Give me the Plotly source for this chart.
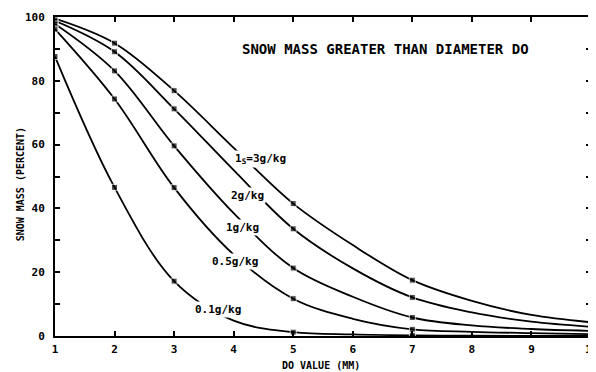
import plotly.graph_objects as go

# ---- data ----
do_values = [1, 2, 3, 4, 5, 6, 7, 8, 9, 10]
marked_do = [1, 2, 3, 5, 7]
mass_3g = [99.5, 91.8, 76.9, 59.0, 41.5, 28.5, 17.5, 11.0, 6.6, 4.3]
mass_2g = [98.8, 89.1, 71.2, 52.0, 33.6, 21.2, 12.1, 7.4, 4.5, 2.9]
mass_1g = [97.8, 83.1, 59.6, 38.5, 21.3, 12.3, 5.8, 3.3, 2.2, 1.6]
mass_05g = [96.2, 74.3, 46.5, 25.5, 11.7, 5.4, 2.1, 1.3, 0.9, 0.6]
mass_01g = [87.6, 46.6, 17.2, 4.8, 1.2, 0.5, 0.2, 0.1, 0.05, 0.0]

series = [mass_3g, mass_2g, mass_1g, mass_05g, mass_01g]

labels = ["1<sub>S</sub>=3g/kg", "2g/kg", "1g/kg", "0.5g/kg", "0.1g/kg"]
label_x = [4.45, 4.24, 4.14, 4.03, 3.74]
label_y = [55.5, 43.9, 33.9, 23.2, 8.2]

x_ticks = list(range(1, 11))
y_ticks = [0, 20, 40, 60, 80, 100]

title_text = "SNOW MASS GREATER THAN DIAMETER DO"
x_title = "DO VALUE (MM)"
y_title = "SNOW MASS (PERCENT)"

FONT = "DejaVu Sans Mono"
TICKFONT = dict(family=FONT, size=11, color="black", weight="bold")

fig = go.Figure()
for ys in series:
    fig.add_trace(go.Scatter(
        x=do_values, y=ys, mode="lines+markers",
        line=dict(color="black", width=1.8, shape="spline", smoothing=1.0),
        marker=dict(symbol="square", color="black",
                    size=[6 if d in marked_do else 0 for d in do_values]),
        showlegend=False, hoverinfo="skip",
    ))

for t, lx, ly in zip(labels, label_x, label_y):
    fig.add_annotation(x=lx, y=ly, text=t, showarrow=False,
                       font=dict(family=FONT, size=11, color="black", weight="bold"),
                       bgcolor="white", borderpad=1)

fig.add_annotation(x=0.617, y=0.931, xref="paper", yref="paper", text=title_text,
                   showarrow=False,
                   font=dict(family=FONT, size=14, color="black", weight="bold"))

# axis titles
fig.add_annotation(x=0.496, y=-0.091, xref="paper", yref="paper", text=x_title,
                   showarrow=False, xanchor="center", yanchor="middle",
                   font=dict(family=FONT, size=10, color="black", weight="bold"))
fig.add_annotation(x=-0.065, y=0.476, xref="paper", yref="paper", text=y_title,
                   showarrow=False, textangle=-90, xanchor="center", yanchor="middle",
                   font=dict(family=FONT, size=10, color="black", weight="bold"))

# last x tick label, which runs off the right edge (cut off as in the reference)
fig.add_annotation(x=x_ticks[-1], y=-0.041, xref="x", yref="paper", text=str(x_ticks[-1]),
                   showarrow=False, xanchor="center", yanchor="middle", font=TICKFONT)

axis_common = dict(showline=True, linecolor="black", linewidth=2, mirror="ticks",
                   ticks="inside", tickcolor="black", tickwidth=1.5, ticklen=5,
                   showgrid=False, zeroline=False, automargin=False,
                   tickfont=TICKFONT)

fig.update_xaxes(range=[1, 10], tickvals=x_ticks, ticklabelstandoff=2, **axis_common)
fig.update_yaxes(range=[0, 100], tickvals=y_ticks, ticklabelstandoff=6, **axis_common,
                 minor=dict(dtick=10, ticks="inside", ticklen=5, tickcolor="black", tickwidth=1.5))

# page body has an 8px default margin; size the figure so the plot lands in place
fig.update_layout(width=588, height=364, plot_bgcolor="white", paper_bgcolor="white",
                  margin=dict(l=47, r=5, t=9, b=36))

fig.write_html("out.html")
